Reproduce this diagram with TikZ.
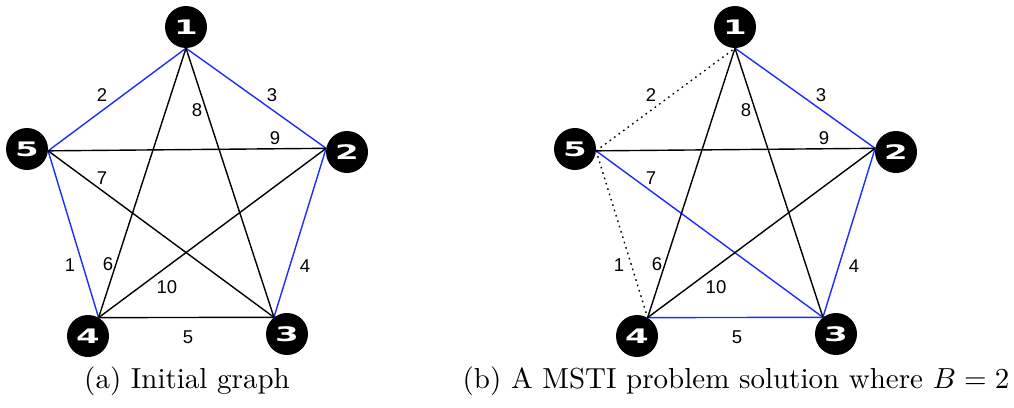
\documentclass[tikz,border=0pt]{standalone}
\usepackage{fontspec}
\newfontfamily\labfont{Liberation Sans}
\newfontfamily\vfont{DejaVu Sans}
\definecolor{edgeblue}{RGB}{25,45,255}
\tikzset{
  vert/.style={circle,fill=black,minimum size=42pt,inner sep=0pt,text=white,
    font=\vfont\bfseries\fontsize{20}{20}\selectfont},
  plain/.style={draw=black,line width=1.4pt},
  tree/.style={draw=edgeblue,line width=1.4pt},
  dropped/.style={draw=black,line width=1.4pt,dash pattern=on 1.6pt off 4pt},
  wlab/.style={font=\labfont\fontsize{18.5}{18.5}\selectfont,inner sep=0pt},
  captext/.style={anchor=base,inner sep=0pt}
}
\newcommand{\vlab}[1]{\scalebox{1.7}[1]{#1}}
\begin{document}
\begin{tikzpicture}[x=1pt,y=-1pt]
\useasboundingbox (0,0) rectangle (1014,407);
% ---------- graph (a)
\node[vert] (a1) at (186,27) {\vlab{1}};
\node[vert] (a2) at (347,152) {\vlab{2}};
\node[vert] (a3) at (287,334) {\vlab{3}};
\node[vert] (a4) at (88,336) {\vlab{4}};
\node[vert] (a5) at (27,149) {\vlab{5}};
\draw[tree]  (a5.-5) -- (a1.south);
\draw[tree]  (a1.south) -- (a2.170);
\draw[tree]  (a5.-5) -- (a4.60);
\draw[tree]  (a2.170) -- (a3.128);
\draw[plain] (a5.-5) -- (a2.170);
\draw[plain] (a1.south) -- (a4.60);
\draw[plain] (a1.south) -- (a3.128);
\draw[plain] (a5.-5) -- (a3.128);
\draw[plain] (a4.60) -- (a2.170);
\draw[plain] (a4.60) -- (a3.128);
\node[wlab] (la2) at (102,95) {2};
\node[wlab] (la3) at (272,95) {3};
\node[wlab] (la8) at (197,110) {8};
\node[wlab] (la9) at (275,138) {9};
\node[wlab] (la7) at (102,178) {7};
\node[wlab] (la1) at (70,265) {1};
\node[wlab] (la6) at (108,264) {6};
\node[wlab] (la4) at (305,266) {4};
\node[wlab] (la10) at (167,287) {10};
\node[wlab] (la5) at (188,337) {5};
% ---------- graph (b)
\node[vert] (b1) at (735,27) {\vlab{1}};
\node[vert] (b2) at (896,152) {\vlab{2}};
\node[vert] (b3) at (836,334) {\vlab{3}};
\node[vert] (b4) at (637,336) {\vlab{4}};
\node[vert] (b5) at (575,149) {\vlab{5}};
\draw[dropped] (b5.-5) -- (b1.south);
\draw[dropped] (b5.-5) -- (b4.60);
\draw[tree]  (b1.south) -- (b2.170);
\draw[tree]  (b2.170) -- (b3.128);
\draw[tree]  (b4.60) -- (b3.128);
\draw[tree]  (b5.-5) -- (b3.128);
\draw[plain] (b5.-5) -- (b2.170);
\draw[plain] (b1.south) -- (b4.60);
\draw[plain] (b1.south) -- (b3.128);
\draw[plain] (b4.60) -- (b2.170);
\node[wlab] (lb2) at (651,95) {2};
\node[wlab] (lb3) at (821,95) {3};
\node[wlab] (lb8) at (746,110) {8};
\node[wlab] (lb9) at (824,138) {9};
\node[wlab] (lb7) at (651,178) {7};
\node[wlab] (lb1) at (619,265) {1};
\node[wlab] (lb6) at (657,264) {6};
\node[wlab] (lb4) at (854,266) {4};
\node[wlab] (lb10) at (716,287) {10};
\node[wlab] (lb5) at (737,337) {5};
% ---------- captions
\node[captext] (capa) at (187,388) {\scalebox{2.9}{(a) Initial graph}};
\node[captext] (capb) at (736,388) {\scalebox{2.9}{(b) A MSTI problem solution where $B=2$}};
\end{tikzpicture}
\end{document}
